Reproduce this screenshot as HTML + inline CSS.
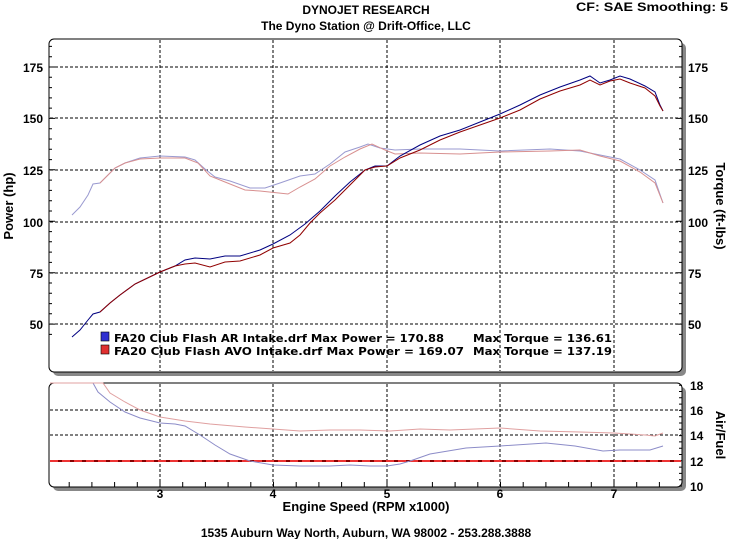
<!DOCTYPE html><html><head><style>
body{margin:0;background:#fff;width:731px;height:539px;overflow:hidden}
svg{display:block}
text{font-family:"Liberation Sans",sans-serif;font-weight:bold}
.lg{font-family:"DejaVu Sans","Liberation Sans",sans-serif}
</style></head><body>
<svg width="731" height="539" viewBox="0 0 731 539">
<text x="366" y="14" font-size="12" text-anchor="middle">DYNOJET RESEARCH</text>
<text x="366" y="30" font-size="12" text-anchor="middle">The Dyno Station @ Drift-Office, LLC</text>
<text x="728" y="11" font-size="12" text-anchor="end" textLength="152" lengthAdjust="spacingAndGlyphs">CF: SAE  Smoothing: 5</text>
<rect x="53" y="43" width="633" height="333" rx="5" fill="#888"/>
<rect x="49" y="39" width="633" height="333" rx="5" fill="#fff" stroke="#000"/>
<rect x="53" y="387" width="633" height="104" rx="5" fill="#888"/>
<rect x="49" y="383" width="633" height="104" rx="5" fill="#fff" stroke="#000"/>
<g stroke="#000" stroke-dasharray="3,2" stroke-width="1">
<path d="M160 40V371M273 40V371M387 40V371M500 40V371M614 40V371"/>
<path d="M50 67H681M50 118H681M50 170H681M50 222H681M50 273H681M50 324H681"/>
<path d="M160 384V486M273 384V486M387 384V486M500 384V486M614 384V486"/>
<path d="M50 410H681M50 435H681"/>
</g>
<g id="ticks" stroke="#000"></g>
<g font-size="12" text-anchor="end">
<text x="43" y="72">175</text><text x="43" y="123">150</text><text x="43" y="175">125</text><text x="43" y="227">100</text><text x="43" y="278">75</text><text x="43" y="329">50</text>
</g>
<g font-size="12">
<text x="688" y="72">175</text><text x="688" y="123">150</text><text x="688" y="175">125</text><text x="688" y="227">100</text><text x="688" y="278">75</text><text x="688" y="329">50</text>
<text x="690" y="390">18</text><text x="690" y="415">16</text><text x="690" y="440">14</text><text x="690" y="466">12</text><text x="690" y="491">10</text>
</g>
<g font-size="12" text-anchor="middle">
<text x="160" y="498">3</text><text x="273" y="498">4</text><text x="387" y="498">5</text><text x="500" y="498">6</text><text x="614" y="498">7</text>
<text x="366" y="511" font-size="13">Engine Speed (RPM x1000)</text>
<text x="366" y="537" font-size="12">1535 Auburn Way North, Auburn, WA 98002 - 253.288.3888</text>
</g>
<text font-size="13" transform="translate(13 206) rotate(-90)" text-anchor="middle">Power (hp)</text>
<text font-size="13" transform="translate(716 206) rotate(90)" text-anchor="middle">Torque (ft-lbs)</text>
<text font-size="13" transform="translate(716 435) rotate(90)" text-anchor="middle">Air/Fuel</text>
<line x1="50" y1="461" x2="681" y2="461" stroke="#800" stroke-width="2"/>
<line x1="50" y1="461" x2="681" y2="461" stroke="#e33" stroke-width="2" stroke-dasharray="8,4"/>
<g fill="none" stroke-width="1">
<polyline stroke="#9a9ad0" points="72,215 80,207 88,195 93,184 100,183 108,175 115,168 125,163 140,158 160,156 185,157 195,160 205,169 215,177 230,181 250,188 265,188 280,183 300,176 315,174 330,164 345,152 360,147 368,144 380,148 395,150 420,149 460,149 500,151 550,149 580,151 600,155 620,159 640,170 655,180 663,203"/>
<polyline stroke="#d89090" points="100,183 108,175 115,168 125,163 140,159 160,158 185,158 198,163 210,176 225,182 245,190 260,191 288,194 300,187 315,179 330,166 345,157 360,149 372,144 385,150 395,154 420,153 460,154 500,152 550,151 580,150 600,156 620,161 640,172 655,183 663,203"/>
<polyline stroke="#000080" points="72,337 80,330 88,320 93,314 100,312 110,303 120,295 135,284 160,272 175,266 185,260 195,258 210,259 225,256 240,256 260,250 273,244 290,235 305,224 320,211 335,196 350,182 365,170 375,166 387,166 400,156 420,145 440,136 460,130 480,122 500,114 520,105 540,95 560,87 580,80 590,76 600,83 610,80 620,76 630,79 645,86 655,92 660,105 663,111"/>
<polyline stroke="#900000" points="100,312 110,303 120,295 135,284 160,272 175,266 185,264 195,263 210,267 225,262 240,261 260,255 273,248 290,243 300,235 310,223 320,213 335,200 350,185 365,170 375,167 387,166 400,158 420,150 440,140 460,132 480,125 500,118 520,110 540,99 560,91 580,85 590,80 600,85 610,81 620,79 630,83 645,88 655,96 660,106 663,111"/>
<polyline stroke="#8c8cc8" points="50,383 93,383 98,392 110,402 125,412 140,418 160,423 175,424 185,426 200,435 215,445 230,454 250,461 273,465 300,466 330,466 350,465 370,466 387,466 400,464 410,461 430,454 466,448 500,446 546,443 575,446 603,451 620,450 650,450 663,446"/>
<polyline stroke="#e0a0a0" points="50,383 103,383 110,393 125,402 140,410 160,417 185,421 210,424 245,427 273,429 300,431 330,430 360,430 390,431 420,429 450,430 500,428 540,431 580,432 614,433 645,435 655,436 663,433"/>
</g>
<rect x="101" y="332" width="8" height="9" fill="#3030d0" stroke="#000" stroke-width=".6"/>
<rect x="101" y="345" width="8" height="9" fill="#e03030" stroke="#000" stroke-width=".6"/>
<g font-size="11" class="lg">
<text class="lg" x="114" y="342" textLength="330" lengthAdjust="spacingAndGlyphs">FA20 Club Flash AR Intake.drf Max Power = 170.88</text>
<text class="lg" x="473" y="342" textLength="139" lengthAdjust="spacingAndGlyphs">Max Torque = 136.61</text>
<text class="lg" x="114" y="355" textLength="350" lengthAdjust="spacingAndGlyphs">FA20 Club Flash AVO Intake.drf Max Power = 169.07</text>
<text class="lg" x="473" y="355" textLength="139" lengthAdjust="spacingAndGlyphs">Max Torque = 137.19</text>
</g>
</svg>
<script>
var g=document.getElementById('ticks'),s='';
for(var v=45;v<=185;v+=5){var y=67+(175-v)*2.057;if(y<41||y>371)continue;var l=v%25==0?6:3;s+='M49 '+y.toFixed(1)+'h'+l+'M682 '+y.toFixed(1)+'h-'+l;}
for(var r=2.2;r<7.6;r+=0.2){var x=160+(r-3)*113.5;s+='M'+x.toFixed(1)+' 487v-5';}
for(var a=10;a<=18;a+=0.5){var y=486-(a-10)*12.6;s+='M682 '+y.toFixed(1)+'h-3';}
g.innerHTML='<path d="'+s+'"/>';
</script>
</body></html>
